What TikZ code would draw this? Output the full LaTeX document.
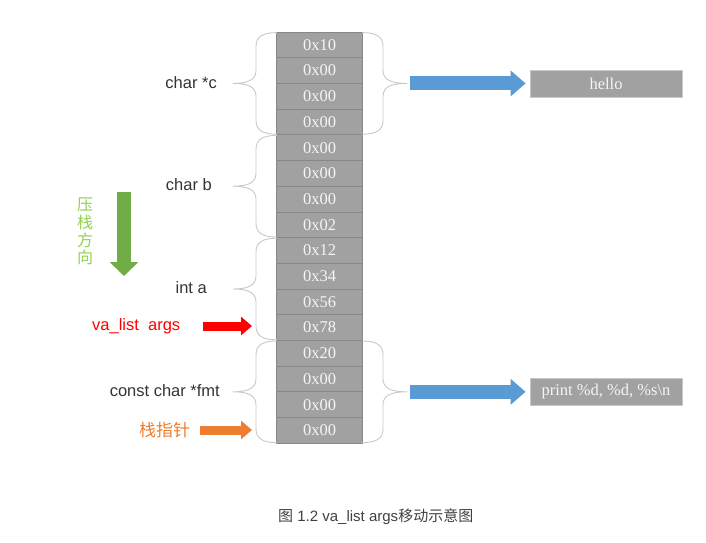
\documentclass[tikz,border=0pt]{standalone}
\usepackage{fontspec}
\setmainfont{Liberation Serif}
\newfontfamily\lsans{Liberation Sans}
\newfontfamily\cjk{Noto Sans CJK SC}
\usetikzlibrary{arrows.meta}
\definecolor{cellgray}{RGB}{161,161,161}
\definecolor{cellline}{RGB}{135,135,135}
\definecolor{celltext}{RGB}{245,245,245}
\definecolor{brcgray}{RGB}{200,200,200}
\definecolor{labgray}{RGB}{51,51,51}
\definecolor{capgray}{RGB}{64,64,64}
\definecolor{arrblue}{RGB}{91,155,213}
\definecolor{arrred}{RGB}{255,0,0}
\definecolor{arrorange}{RGB}{237,125,49}
\definecolor{arrgreen}{RGB}{112,173,71}
\definecolor{txtgreen}{RGB}{146,208,80}
\begin{document}
\begin{tikzpicture}[x=1pt,y=-1pt,
  cell/.style={minimum width=85.5pt,minimum height=25.7pt,inner sep=0pt,fill=cellgray,draw=cellline,line width=0.8pt,text=celltext,font=\fontsize{16.5}{19}\selectfont},
  valbox/.style={minimum width=152pt,minimum height=27pt,inner sep=0pt,fill=cellgray,draw=brcgray,line width=0.8pt,text=celltext,font=\fontsize{16.5}{19}\selectfont},
  lab/.style={inner sep=0pt,text=labgray,font=\lsans\fontsize{16.5}{19}\selectfont},
  brc/.style={draw=brcgray,line width=0.9pt},
  bluearrow/.style={draw=arrblue,line width=14pt,-{Triangle[length=15pt,width=25pt]}},
  thinarrow/.style={line width=9pt,-{Triangle[length=11pt,width=18pt]}},
  lbr/.pic={\draw[brc] (0,-50.8) .. controls (-14,-50.8) and (-21,-47) .. (-21,-37) -- (-21,-13) .. controls (-21,-3) and (-30,0) .. (-44,0) .. controls (-30,0) and (-21,3) .. (-21,13) -- (-21,37) .. controls (-21,47) and (-14,50.8) .. (0,50.8);},
  rbr/.pic={\draw[brc] (0,-50.8) .. controls (14,-50.8) and (21,-47) .. (21,-37) -- (21,-13) .. controls (21,-3) and (30,0) .. (45,0) .. controls (30,0) and (21,3) .. (21,13) -- (21,37) .. controls (21,47) and (14,50.8) .. (0,50.8);}
]
\useasboundingbox (0,0) rectangle (706,542);
% stack cells
\foreach \v [count=\i] in {0x10,0x00,0x00,0x00,0x00,0x00,0x00,0x02,0x12,0x34,0x56,0x78,0x20,0x00,0x00,0x00}
  \node[cell] (c\i) at (319.5,{32+25.7*(\i-0.5)}) {\v};
% braces
\pic at (277,83.4) {lbr};
\pic at (277,186.2) {lbr};
\pic at (277,289) {lbr};
\pic at (277,391.8) {lbr};
\pic at (362,83.4) {rbr};
\pic at (362,391.8) {rbr};
\coordinate (tipc) at (407,83.4);
\coordinate (tipfmt) at (407,391.8);
% labels
\node[lab,anchor=east] (lc) at (217,83) {char *c};
\node[lab,anchor=east] (lb) at (212,185) {char b};
\node[lab,anchor=east] (la) at (207,288) {int a};
\node[lab,anchor=east] (lfmt) at (220,391) {const char *fmt};
\node[lab,anchor=west,text=arrred] (va) at (92,326) {va\_list\ \ args};
\node[inner sep=0pt,anchor=west,text=arrorange,font=\cjk\fontsize{17}{19}\selectfont] (sp) at (139,430) {栈指针};
% value boxes
\node[valbox] (hello) at (606,83.4) {hello};
\node[valbox] (fmtstr) at (606,391.8) {print \%d, \%d, \%s\textbackslash n};
% blue arrows
\draw[bluearrow,shorten <=3pt,shorten >=4pt] (tipc) -- (hello.west);
\draw[bluearrow,shorten <=3pt,shorten >=4pt] (tipfmt) -- (fmtstr.west);
% red and orange arrows
\coordinate (vaend) at (252,326);
\coordinate (spend) at (252,430);
\draw[thinarrow,draw=arrred,shorten <=23pt] (va.east) -- (vaend);
\draw[thinarrow,draw=arrorange,shorten <=10pt] (sp.east) -- (spend);
% push direction
\coordinate (gtop) at (124,192);
\coordinate (gbot) at (124,276);
\draw[draw=arrgreen,line width=14pt,-{Triangle[length=14pt,width=28pt]}] (gtop) -- (gbot);
\node[inner sep=0pt,text=txtgreen,font=\cjk\fontsize{16}{17.7}\selectfont,align=center] (pushdir) at (85,231.5) {压\\栈\\方\\向};
% caption
\node[inner sep=0pt,anchor=west,text=capgray,font=\lsans\fontsize{15}{18}\selectfont] (cap) at (278,517) {{\cjk 图} 1.2 va\_list args{\cjk 移动示意图}};
\end{tikzpicture}
\end{document}
